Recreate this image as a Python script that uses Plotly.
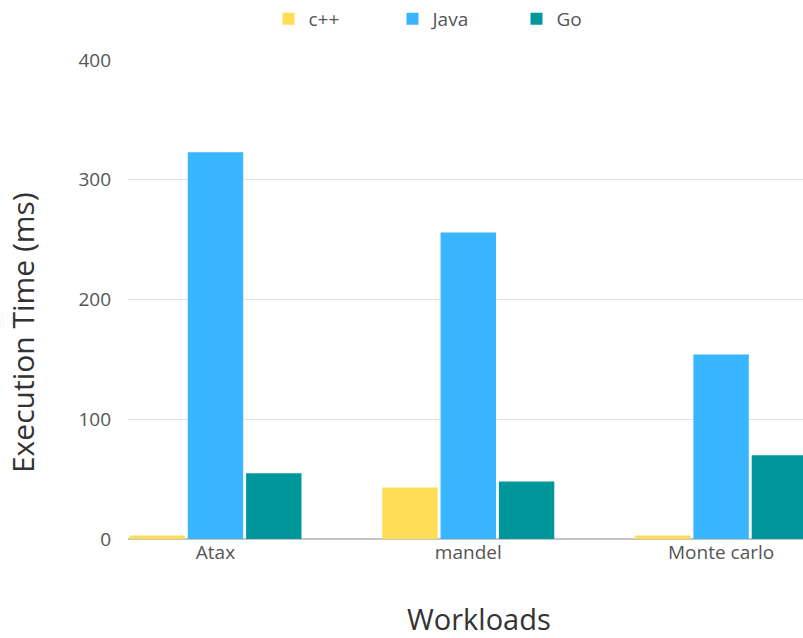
import plotly.graph_objects as go

categories = ["Atax", "mandel", "Monte carlo"]
cpp = [3, 43, 3]
java = [323, 256, 154]
golang = [55, 48, 70]
series_names = ["c++", "Java", "Go"]
colors = ["#FFDD57", "#38B6FF", "#00979C"]

xs = list(range(len(categories)))
fig = go.Figure()
for name, vals, col in zip(series_names, [cpp, java, golang], colors):
    fig.add_trace(go.Bar(x=xs, y=vals, name=name, marker_color=col,
                         marker_line_width=0))

fig.update_layout(
    width=803, height=638,
    margin=dict(l=128, r=0, t=60, b=99, autoexpand=False),
    plot_bgcolor="white", paper_bgcolor="white",
    barmode="group", bargap=0.308, bargroupgap=0.05,
    font=dict(family="Open Sans", color="#555555"),
    legend=dict(orientation="h", x=0.566, xanchor="center", xref="container",
                y=1.0, yanchor="top", yref="container",
                font=dict(size=19, color="#555555"), itemwidth=30,
                entrywidth=79),
    showlegend=True,
    annotations=[
        dict(text="Workloads", xref="paper", yref="paper", x=0.52, y=-0.165,
             xanchor="center", yanchor="middle", showarrow=False,
             font=dict(size=29, color="#333333")),
        dict(text="Execution Time (ms)", xref="paper", yref="paper", x=-0.157, y=0.43,
             xanchor="center", yanchor="middle", showarrow=False, textangle=-90,
             font=dict(size=30, color="#333333")),
    ],
)
fig.update_xaxes(
    tickmode="array", tickvals=xs, ticktext=categories,
    range=[-0.346, 2.324], showgrid=False, zeroline=False,
    showline=False, ticks="", tickfont=dict(size=19, color="#555555"),
)
fig.update_yaxes(
    range=[0, 400], tickvals=[0, 100, 200, 300, 400],
    showgrid=True, gridcolor="#e0e0e0", gridwidth=1,
    zeroline=True, zerolinecolor="#c4c4c4", zerolinewidth=2,
    showline=False, ticks="", tickfont=dict(size=19, color="#555555"),
    ticklabelstandoff=16,
)
fig.write_html("out.html")
